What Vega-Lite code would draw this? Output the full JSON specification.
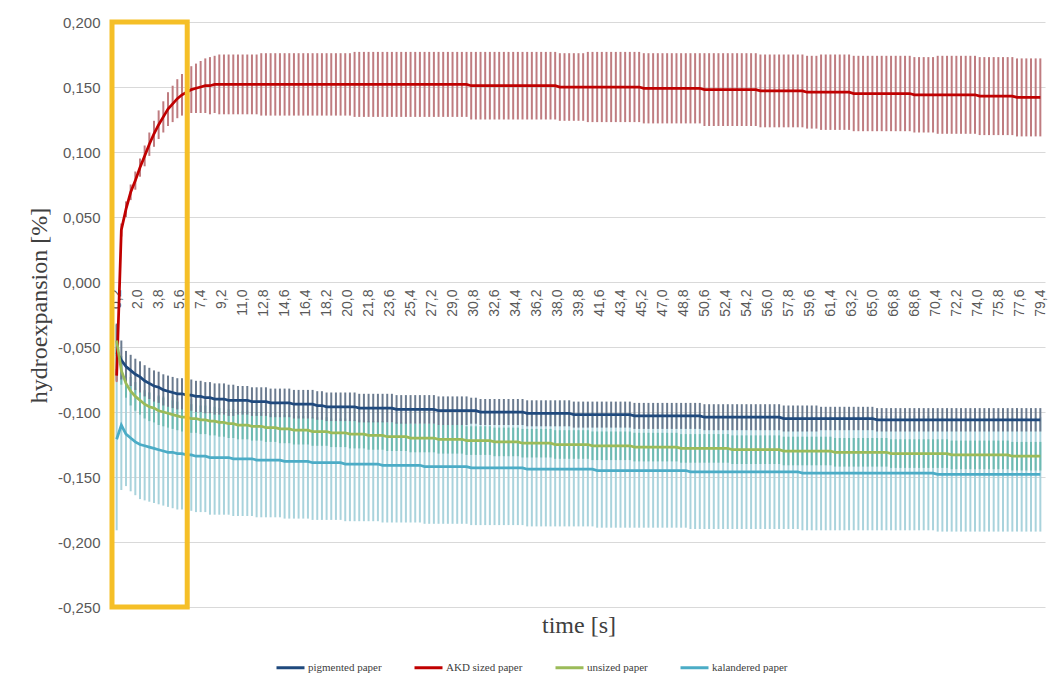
{
  "$schema": "https://vega.github.io/schema/vega-lite/v6.json",
  "width": 933,
  "height": 585,
  "autosize": {"type": "none"},
  "padding": {"left": 112, "top": 22, "right": 8, "bottom": 79},
  "background": "white",
  "config": {
    "locale": {"number": {"decimal": ",", "thousands": ".", "grouping": [3], "currency": ["", " €"], "minus": "-"}},
    "view": {"stroke": null},
    "axis": {"labelFont": "Liberation Sans", "labelColor": "#595959", "titleFont": "Liberation Serif", "titleColor": "#404040", "titleFontWeight": "normal", "gridColor": "#d9d9d9", "gridWidth": 1, "domain": false, "ticks": false},
    "legend": {"labelFont": "Liberation Serif", "labelFontSize": 11, "labelColor": "#404040", "symbolType": "stroke", "symbolStrokeWidth": 3, "symbolSize": 784, "labelOffset": 2, "columnPadding": 26}
  },
  "datasets": {
    "d": [
{"t":0.2,"a":-0.072,"ae":0.005,"p":-0.054,"pe":0.022,"u":-0.045,"ue":0.012,"k":-0.121,"ke":0.07},
{"t":0.6,"a":0.040,"ae":0.005,"p":-0.060,"pe":0.015,"u":-0.068,"ue":0.011,"k":-0.110,"ke":0.05},
{"t":1.0,"a":0.056,"ae":0.006,"p":-0.065,"pe":0.012,"u":-0.078,"ue":0.011,"k":-0.117,"ke":0.040},
{"t":1.4,"a":0.069,"ae":0.006,"p":-0.068,"pe":0.012,"u":-0.084,"ue":0.011,"k":-0.120,"ke":0.041},
{"t":1.8,"a":0.078,"ae":0.007,"p":-0.071,"pe":0.012,"u":-0.088,"ue":0.011,"k":-0.123,"ke":0.041},
{"t":2.2,"a":0.088,"ae":0.007,"p":-0.073,"pe":0.012,"u":-0.091,"ue":0.011,"k":-0.125,"ke":0.042},
{"t":2.6,"a":0.097,"ae":0.008,"p":-0.076,"pe":0.012,"u":-0.094,"ue":0.011,"k":-0.126,"ke":0.042},
{"t":3.0,"a":0.106,"ae":0.009,"p":-0.078,"pe":0.012,"u":-0.096,"ue":0.011,"k":-0.127,"ke":0.042},
{"t":3.4,"a":0.114,"ae":0.010,"p":-0.080,"pe":0.012,"u":-0.097,"ue":0.011,"k":-0.128,"ke":0.042},
{"t":3.8,"a":0.121,"ae":0.011,"p":-0.081,"pe":0.012,"u":-0.099,"ue":0.011,"k":-0.129,"ke":0.042},
{"t":4.2,"a":0.127,"ae":0.012,"p":-0.083,"pe":0.012,"u":-0.100,"ue":0.011,"k":-0.130,"ke":0.042},
{"t":4.6,"a":0.133,"ae":0.013,"p":-0.084,"pe":0.012,"u":-0.101,"ue":0.011,"k":-0.131,"ke":0.042},
{"t":5.0,"a":0.137,"ae":0.014,"p":-0.085,"pe":0.012,"u":-0.102,"ue":0.011,"k":-0.131,"ke":0.043},
{"t":5.4,"a":0.141,"ae":0.015,"p":-0.086,"pe":0.012,"u":-0.103,"ue":0.011,"k":-0.132,"ke":0.043},
{"t":5.8,"a":0.144,"ae":0.016,"p":-0.086,"pe":0.012,"u":-0.104,"ue":0.011,"k":-0.132,"ke":0.043},
{"t":6.2,"a":0.146,"ae":0.017,"p":-0.087,"pe":0.012,"u":-0.104,"ue":0.011,"k":-0.133,"ke":0.043},
{"t":6.6,"a":0.148,"ae":0.018,"p":-0.087,"pe":0.012,"u":-0.105,"ue":0.011,"k":-0.133,"ke":0.043},
{"t":7.0,"a":0.149,"ae":0.019,"p":-0.088,"pe":0.012,"u":-0.105,"ue":0.011,"k":-0.134,"ke":0.043},
{"t":7.4,"a":0.150,"ae":0.020,"p":-0.088,"pe":0.012,"u":-0.106,"ue":0.011,"k":-0.134,"ke":0.043},
{"t":7.8,"a":0.151,"ae":0.021,"p":-0.089,"pe":0.012,"u":-0.106,"ue":0.011,"k":-0.134,"ke":0.043},
{"t":8.2,"a":0.151,"ae":0.022,"p":-0.089,"pe":0.012,"u":-0.107,"ue":0.011,"k":-0.135,"ke":0.044},
{"t":8.6,"a":0.152,"ae":0.022,"p":-0.090,"pe":0.012,"u":-0.107,"ue":0.011,"k":-0.135,"ke":0.044},
{"t":9.0,"a":0.152,"ae":0.023,"p":-0.090,"pe":0.012,"u":-0.108,"ue":0.011,"k":-0.135,"ke":0.044},
{"t":9.4,"a":0.152,"ae":0.023,"p":-0.090,"pe":0.012,"u":-0.108,"ue":0.011,"k":-0.135,"ke":0.044},
{"t":9.8,"a":0.152,"ae":0.023,"p":-0.091,"pe":0.012,"u":-0.109,"ue":0.011,"k":-0.135,"ke":0.044},
{"t":10.2,"a":0.152,"ae":0.023,"p":-0.091,"pe":0.012,"u":-0.109,"ue":0.011,"k":-0.136,"ke":0.044},
{"t":10.6,"a":0.152,"ae":0.023,"p":-0.091,"pe":0.011,"u":-0.110,"ue":0.011,"k":-0.136,"ke":0.044},
{"t":11.0,"a":0.152,"ae":0.023,"p":-0.091,"pe":0.011,"u":-0.110,"ue":0.011,"k":-0.136,"ke":0.044},
{"t":11.4,"a":0.152,"ae":0.023,"p":-0.091,"pe":0.011,"u":-0.110,"ue":0.011,"k":-0.136,"ke":0.044},
{"t":11.8,"a":0.152,"ae":0.023,"p":-0.092,"pe":0.011,"u":-0.111,"ue":0.011,"k":-0.136,"ke":0.044},
{"t":12.2,"a":0.152,"ae":0.023,"p":-0.092,"pe":0.011,"u":-0.111,"ue":0.011,"k":-0.137,"ke":0.044},
{"t":12.6,"a":0.152,"ae":0.024,"p":-0.092,"pe":0.011,"u":-0.111,"ue":0.011,"k":-0.137,"ke":0.044},
{"t":13.0,"a":0.152,"ae":0.024,"p":-0.092,"pe":0.011,"u":-0.112,"ue":0.011,"k":-0.137,"ke":0.044},
{"t":13.4,"a":0.152,"ae":0.024,"p":-0.093,"pe":0.011,"u":-0.112,"ue":0.011,"k":-0.137,"ke":0.044},
{"t":13.8,"a":0.152,"ae":0.024,"p":-0.093,"pe":0.011,"u":-0.112,"ue":0.011,"k":-0.137,"ke":0.044},
{"t":14.2,"a":0.152,"ae":0.024,"p":-0.093,"pe":0.011,"u":-0.113,"ue":0.011,"k":-0.137,"ke":0.044},
{"t":14.6,"a":0.152,"ae":0.024,"p":-0.093,"pe":0.011,"u":-0.113,"ue":0.011,"k":-0.138,"ke":0.044},
{"t":15.0,"a":0.152,"ae":0.024,"p":-0.093,"pe":0.011,"u":-0.113,"ue":0.011,"k":-0.138,"ke":0.044},
{"t":15.4,"a":0.152,"ae":0.024,"p":-0.094,"pe":0.011,"u":-0.114,"ue":0.011,"k":-0.138,"ke":0.044},
{"t":15.8,"a":0.152,"ae":0.024,"p":-0.094,"pe":0.011,"u":-0.114,"ue":0.011,"k":-0.138,"ke":0.044},
{"t":16.2,"a":0.152,"ae":0.024,"p":-0.094,"pe":0.011,"u":-0.114,"ue":0.011,"k":-0.138,"ke":0.044},
{"t":16.6,"a":0.152,"ae":0.024,"p":-0.094,"pe":0.011,"u":-0.114,"ue":0.011,"k":-0.138,"ke":0.044},
{"t":17.0,"a":0.152,"ae":0.024,"p":-0.094,"pe":0.011,"u":-0.115,"ue":0.011,"k":-0.139,"ke":0.044},
{"t":17.4,"a":0.152,"ae":0.024,"p":-0.095,"pe":0.011,"u":-0.115,"ue":0.011,"k":-0.139,"ke":0.044},
{"t":17.8,"a":0.152,"ae":0.024,"p":-0.095,"pe":0.011,"u":-0.115,"ue":0.011,"k":-0.139,"ke":0.044},
{"t":18.2,"a":0.152,"ae":0.024,"p":-0.096,"pe":0.011,"u":-0.115,"ue":0.011,"k":-0.139,"ke":0.044},
{"t":18.6,"a":0.152,"ae":0.024,"p":-0.096,"pe":0.011,"u":-0.116,"ue":0.011,"k":-0.139,"ke":0.044},
{"t":19.0,"a":0.152,"ae":0.024,"p":-0.096,"pe":0.011,"u":-0.116,"ue":0.011,"k":-0.139,"ke":0.044},
{"t":19.4,"a":0.152,"ae":0.024,"p":-0.096,"pe":0.011,"u":-0.116,"ue":0.011,"k":-0.139,"ke":0.044},
{"t":19.8,"a":0.152,"ae":0.024,"p":-0.096,"pe":0.011,"u":-0.116,"ue":0.011,"k":-0.140,"ke":0.044},
{"t":20.2,"a":0.152,"ae":0.024,"p":-0.096,"pe":0.011,"u":-0.117,"ue":0.011,"k":-0.140,"ke":0.044},
{"t":20.6,"a":0.152,"ae":0.025,"p":-0.096,"pe":0.011,"u":-0.117,"ue":0.011,"k":-0.140,"ke":0.044},
{"t":21.0,"a":0.152,"ae":0.025,"p":-0.097,"pe":0.011,"u":-0.117,"ue":0.011,"k":-0.140,"ke":0.044},
{"t":21.4,"a":0.152,"ae":0.025,"p":-0.097,"pe":0.011,"u":-0.117,"ue":0.011,"k":-0.140,"ke":0.044},
{"t":21.8,"a":0.152,"ae":0.025,"p":-0.097,"pe":0.011,"u":-0.118,"ue":0.011,"k":-0.140,"ke":0.044},
{"t":22.2,"a":0.152,"ae":0.025,"p":-0.097,"pe":0.011,"u":-0.118,"ue":0.011,"k":-0.140,"ke":0.044},
{"t":22.6,"a":0.152,"ae":0.025,"p":-0.097,"pe":0.011,"u":-0.118,"ue":0.011,"k":-0.140,"ke":0.044},
{"t":23.0,"a":0.152,"ae":0.025,"p":-0.097,"pe":0.011,"u":-0.118,"ue":0.011,"k":-0.141,"ke":0.044},
{"t":23.4,"a":0.152,"ae":0.025,"p":-0.097,"pe":0.011,"u":-0.119,"ue":0.011,"k":-0.141,"ke":0.044},
{"t":23.8,"a":0.152,"ae":0.025,"p":-0.097,"pe":0.011,"u":-0.119,"ue":0.011,"k":-0.141,"ke":0.044},
{"t":24.2,"a":0.152,"ae":0.025,"p":-0.098,"pe":0.011,"u":-0.119,"ue":0.011,"k":-0.141,"ke":0.044},
{"t":24.6,"a":0.152,"ae":0.025,"p":-0.098,"pe":0.011,"u":-0.119,"ue":0.011,"k":-0.141,"ke":0.044},
{"t":25.0,"a":0.152,"ae":0.025,"p":-0.098,"pe":0.011,"u":-0.119,"ue":0.011,"k":-0.141,"ke":0.044},
{"t":25.4,"a":0.152,"ae":0.025,"p":-0.098,"pe":0.011,"u":-0.120,"ue":0.011,"k":-0.141,"ke":0.044},
{"t":25.8,"a":0.152,"ae":0.025,"p":-0.098,"pe":0.011,"u":-0.120,"ue":0.011,"k":-0.141,"ke":0.044},
{"t":26.2,"a":0.152,"ae":0.025,"p":-0.098,"pe":0.011,"u":-0.120,"ue":0.011,"k":-0.141,"ke":0.044},
{"t":26.6,"a":0.152,"ae":0.025,"p":-0.098,"pe":0.011,"u":-0.120,"ue":0.011,"k":-0.142,"ke":0.044},
{"t":27.0,"a":0.152,"ae":0.025,"p":-0.098,"pe":0.011,"u":-0.120,"ue":0.011,"k":-0.142,"ke":0.044},
{"t":27.4,"a":0.152,"ae":0.025,"p":-0.098,"pe":0.011,"u":-0.120,"ue":0.011,"k":-0.142,"ke":0.044},
{"t":27.8,"a":0.152,"ae":0.025,"p":-0.099,"pe":0.011,"u":-0.121,"ue":0.011,"k":-0.142,"ke":0.044},
{"t":28.2,"a":0.152,"ae":0.025,"p":-0.099,"pe":0.011,"u":-0.121,"ue":0.011,"k":-0.142,"ke":0.044},
{"t":28.6,"a":0.152,"ae":0.025,"p":-0.099,"pe":0.011,"u":-0.121,"ue":0.011,"k":-0.142,"ke":0.044},
{"t":29.0,"a":0.152,"ae":0.025,"p":-0.099,"pe":0.011,"u":-0.121,"ue":0.011,"k":-0.142,"ke":0.044},
{"t":29.4,"a":0.152,"ae":0.025,"p":-0.099,"pe":0.011,"u":-0.121,"ue":0.011,"k":-0.142,"ke":0.044},
{"t":29.8,"a":0.152,"ae":0.025,"p":-0.099,"pe":0.011,"u":-0.121,"ue":0.011,"k":-0.142,"ke":0.044},
{"t":30.2,"a":0.152,"ae":0.025,"p":-0.099,"pe":0.011,"u":-0.122,"ue":0.011,"k":-0.142,"ke":0.044},
{"t":30.6,"a":0.151,"ae":0.026,"p":-0.099,"pe":0.010,"u":-0.122,"ue":0.011,"k":-0.143,"ke":0.044},
{"t":31.0,"a":0.151,"ae":0.026,"p":-0.099,"pe":0.010,"u":-0.122,"ue":0.011,"k":-0.143,"ke":0.044},
{"t":31.4,"a":0.151,"ae":0.026,"p":-0.100,"pe":0.010,"u":-0.122,"ue":0.011,"k":-0.143,"ke":0.044},
{"t":31.8,"a":0.151,"ae":0.026,"p":-0.100,"pe":0.010,"u":-0.122,"ue":0.011,"k":-0.143,"ke":0.044},
{"t":32.2,"a":0.151,"ae":0.026,"p":-0.100,"pe":0.010,"u":-0.122,"ue":0.011,"k":-0.143,"ke":0.044},
{"t":32.6,"a":0.151,"ae":0.026,"p":-0.100,"pe":0.010,"u":-0.123,"ue":0.011,"k":-0.143,"ke":0.044},
{"t":33.0,"a":0.151,"ae":0.026,"p":-0.100,"pe":0.010,"u":-0.123,"ue":0.011,"k":-0.143,"ke":0.044},
{"t":33.4,"a":0.151,"ae":0.026,"p":-0.100,"pe":0.010,"u":-0.123,"ue":0.011,"k":-0.143,"ke":0.044},
{"t":33.8,"a":0.151,"ae":0.026,"p":-0.100,"pe":0.010,"u":-0.123,"ue":0.011,"k":-0.143,"ke":0.044},
{"t":34.2,"a":0.151,"ae":0.026,"p":-0.100,"pe":0.010,"u":-0.123,"ue":0.011,"k":-0.143,"ke":0.044},
{"t":34.6,"a":0.151,"ae":0.026,"p":-0.100,"pe":0.010,"u":-0.123,"ue":0.011,"k":-0.143,"ke":0.044},
{"t":35.0,"a":0.151,"ae":0.026,"p":-0.100,"pe":0.010,"u":-0.124,"ue":0.011,"k":-0.143,"ke":0.044},
{"t":35.4,"a":0.151,"ae":0.026,"p":-0.101,"pe":0.010,"u":-0.124,"ue":0.011,"k":-0.144,"ke":0.044},
{"t":35.8,"a":0.151,"ae":0.026,"p":-0.101,"pe":0.010,"u":-0.124,"ue":0.011,"k":-0.144,"ke":0.044},
{"t":36.2,"a":0.151,"ae":0.026,"p":-0.101,"pe":0.010,"u":-0.124,"ue":0.011,"k":-0.144,"ke":0.044},
{"t":36.6,"a":0.151,"ae":0.026,"p":-0.101,"pe":0.010,"u":-0.124,"ue":0.011,"k":-0.144,"ke":0.044},
{"t":37.0,"a":0.151,"ae":0.026,"p":-0.101,"pe":0.010,"u":-0.124,"ue":0.011,"k":-0.144,"ke":0.044},
{"t":37.4,"a":0.151,"ae":0.026,"p":-0.101,"pe":0.010,"u":-0.124,"ue":0.011,"k":-0.144,"ke":0.044},
{"t":37.8,"a":0.151,"ae":0.026,"p":-0.101,"pe":0.010,"u":-0.125,"ue":0.011,"k":-0.144,"ke":0.044},
{"t":38.2,"a":0.150,"ae":0.026,"p":-0.101,"pe":0.010,"u":-0.125,"ue":0.011,"k":-0.144,"ke":0.044},
{"t":38.6,"a":0.150,"ae":0.026,"p":-0.101,"pe":0.010,"u":-0.125,"ue":0.011,"k":-0.144,"ke":0.044},
{"t":39.0,"a":0.150,"ae":0.026,"p":-0.101,"pe":0.010,"u":-0.125,"ue":0.011,"k":-0.144,"ke":0.044},
{"t":39.4,"a":0.150,"ae":0.026,"p":-0.102,"pe":0.010,"u":-0.125,"ue":0.011,"k":-0.144,"ke":0.044},
{"t":39.8,"a":0.150,"ae":0.026,"p":-0.102,"pe":0.010,"u":-0.125,"ue":0.011,"k":-0.144,"ke":0.044},
{"t":40.2,"a":0.150,"ae":0.026,"p":-0.102,"pe":0.010,"u":-0.125,"ue":0.011,"k":-0.144,"ke":0.044},
{"t":40.6,"a":0.150,"ae":0.027,"p":-0.102,"pe":0.010,"u":-0.125,"ue":0.011,"k":-0.144,"ke":0.044},
{"t":41.0,"a":0.150,"ae":0.027,"p":-0.102,"pe":0.010,"u":-0.126,"ue":0.011,"k":-0.144,"ke":0.044},
{"t":41.4,"a":0.150,"ae":0.027,"p":-0.102,"pe":0.010,"u":-0.126,"ue":0.011,"k":-0.145,"ke":0.044},
{"t":41.8,"a":0.150,"ae":0.027,"p":-0.102,"pe":0.010,"u":-0.126,"ue":0.011,"k":-0.145,"ke":0.044},
{"t":42.2,"a":0.150,"ae":0.027,"p":-0.102,"pe":0.010,"u":-0.126,"ue":0.011,"k":-0.145,"ke":0.044},
{"t":42.6,"a":0.150,"ae":0.027,"p":-0.102,"pe":0.010,"u":-0.126,"ue":0.011,"k":-0.145,"ke":0.044},
{"t":43.0,"a":0.150,"ae":0.027,"p":-0.102,"pe":0.010,"u":-0.126,"ue":0.011,"k":-0.145,"ke":0.044},
{"t":43.4,"a":0.150,"ae":0.027,"p":-0.102,"pe":0.010,"u":-0.126,"ue":0.011,"k":-0.145,"ke":0.044},
{"t":43.8,"a":0.150,"ae":0.027,"p":-0.102,"pe":0.010,"u":-0.126,"ue":0.011,"k":-0.145,"ke":0.044},
{"t":44.2,"a":0.150,"ae":0.027,"p":-0.102,"pe":0.010,"u":-0.126,"ue":0.011,"k":-0.145,"ke":0.044},
{"t":44.6,"a":0.150,"ae":0.027,"p":-0.103,"pe":0.010,"u":-0.127,"ue":0.011,"k":-0.145,"ke":0.044},
{"t":45.0,"a":0.150,"ae":0.027,"p":-0.103,"pe":0.010,"u":-0.127,"ue":0.011,"k":-0.145,"ke":0.044},
{"t":45.4,"a":0.149,"ae":0.027,"p":-0.103,"pe":0.010,"u":-0.127,"ue":0.011,"k":-0.145,"ke":0.044},
{"t":45.8,"a":0.149,"ae":0.027,"p":-0.103,"pe":0.010,"u":-0.127,"ue":0.011,"k":-0.145,"ke":0.044},
{"t":46.2,"a":0.149,"ae":0.027,"p":-0.103,"pe":0.010,"u":-0.127,"ue":0.011,"k":-0.145,"ke":0.044},
{"t":46.6,"a":0.149,"ae":0.027,"p":-0.103,"pe":0.010,"u":-0.127,"ue":0.011,"k":-0.145,"ke":0.044},
{"t":47.0,"a":0.149,"ae":0.027,"p":-0.103,"pe":0.010,"u":-0.127,"ue":0.011,"k":-0.145,"ke":0.044},
{"t":47.4,"a":0.149,"ae":0.027,"p":-0.103,"pe":0.010,"u":-0.127,"ue":0.011,"k":-0.145,"ke":0.044},
{"t":47.8,"a":0.149,"ae":0.027,"p":-0.103,"pe":0.010,"u":-0.127,"ue":0.011,"k":-0.145,"ke":0.044},
{"t":48.2,"a":0.149,"ae":0.027,"p":-0.103,"pe":0.010,"u":-0.127,"ue":0.011,"k":-0.145,"ke":0.044},
{"t":48.6,"a":0.149,"ae":0.027,"p":-0.103,"pe":0.010,"u":-0.128,"ue":0.011,"k":-0.145,"ke":0.044},
{"t":49.0,"a":0.149,"ae":0.027,"p":-0.103,"pe":0.010,"u":-0.128,"ue":0.011,"k":-0.145,"ke":0.044},
{"t":49.4,"a":0.149,"ae":0.027,"p":-0.103,"pe":0.010,"u":-0.128,"ue":0.011,"k":-0.146,"ke":0.044},
{"t":49.8,"a":0.149,"ae":0.027,"p":-0.103,"pe":0.010,"u":-0.128,"ue":0.011,"k":-0.146,"ke":0.044},
{"t":50.2,"a":0.149,"ae":0.027,"p":-0.103,"pe":0.010,"u":-0.128,"ue":0.011,"k":-0.146,"ke":0.044},
{"t":50.6,"a":0.148,"ae":0.028,"p":-0.104,"pe":0.010,"u":-0.128,"ue":0.011,"k":-0.146,"ke":0.044},
{"t":51.0,"a":0.148,"ae":0.028,"p":-0.104,"pe":0.010,"u":-0.128,"ue":0.011,"k":-0.146,"ke":0.044},
{"t":51.4,"a":0.148,"ae":0.028,"p":-0.104,"pe":0.010,"u":-0.128,"ue":0.011,"k":-0.146,"ke":0.044},
{"t":51.8,"a":0.148,"ae":0.028,"p":-0.104,"pe":0.010,"u":-0.128,"ue":0.011,"k":-0.146,"ke":0.044},
{"t":52.2,"a":0.148,"ae":0.028,"p":-0.104,"pe":0.010,"u":-0.128,"ue":0.011,"k":-0.146,"ke":0.044},
{"t":52.6,"a":0.148,"ae":0.028,"p":-0.104,"pe":0.010,"u":-0.128,"ue":0.011,"k":-0.146,"ke":0.044},
{"t":53.0,"a":0.148,"ae":0.028,"p":-0.104,"pe":0.010,"u":-0.129,"ue":0.011,"k":-0.146,"ke":0.044},
{"t":53.4,"a":0.148,"ae":0.028,"p":-0.104,"pe":0.010,"u":-0.129,"ue":0.011,"k":-0.146,"ke":0.044},
{"t":53.8,"a":0.148,"ae":0.028,"p":-0.104,"pe":0.010,"u":-0.129,"ue":0.011,"k":-0.146,"ke":0.044},
{"t":54.2,"a":0.148,"ae":0.028,"p":-0.104,"pe":0.010,"u":-0.129,"ue":0.011,"k":-0.146,"ke":0.044},
{"t":54.6,"a":0.148,"ae":0.028,"p":-0.104,"pe":0.010,"u":-0.129,"ue":0.011,"k":-0.146,"ke":0.044},
{"t":55.0,"a":0.148,"ae":0.028,"p":-0.104,"pe":0.010,"u":-0.129,"ue":0.011,"k":-0.146,"ke":0.044},
{"t":55.4,"a":0.147,"ae":0.028,"p":-0.104,"pe":0.010,"u":-0.129,"ue":0.011,"k":-0.146,"ke":0.044},
{"t":55.8,"a":0.147,"ae":0.028,"p":-0.104,"pe":0.010,"u":-0.129,"ue":0.011,"k":-0.146,"ke":0.044},
{"t":56.2,"a":0.147,"ae":0.028,"p":-0.104,"pe":0.010,"u":-0.129,"ue":0.011,"k":-0.146,"ke":0.044},
{"t":56.6,"a":0.147,"ae":0.028,"p":-0.104,"pe":0.010,"u":-0.129,"ue":0.011,"k":-0.146,"ke":0.044},
{"t":57.0,"a":0.147,"ae":0.028,"p":-0.104,"pe":0.010,"u":-0.129,"ue":0.011,"k":-0.146,"ke":0.044},
{"t":57.4,"a":0.147,"ae":0.028,"p":-0.105,"pe":0.010,"u":-0.130,"ue":0.011,"k":-0.146,"ke":0.044},
{"t":57.8,"a":0.147,"ae":0.028,"p":-0.105,"pe":0.010,"u":-0.130,"ue":0.011,"k":-0.146,"ke":0.044},
{"t":58.2,"a":0.147,"ae":0.028,"p":-0.105,"pe":0.010,"u":-0.130,"ue":0.011,"k":-0.146,"ke":0.044},
{"t":58.6,"a":0.147,"ae":0.028,"p":-0.105,"pe":0.010,"u":-0.130,"ue":0.011,"k":-0.146,"ke":0.044},
{"t":59.0,"a":0.147,"ae":0.028,"p":-0.105,"pe":0.010,"u":-0.130,"ue":0.011,"k":-0.147,"ke":0.044},
{"t":59.4,"a":0.146,"ae":0.028,"p":-0.105,"pe":0.010,"u":-0.130,"ue":0.011,"k":-0.147,"ke":0.044},
{"t":59.8,"a":0.146,"ae":0.028,"p":-0.105,"pe":0.010,"u":-0.130,"ue":0.011,"k":-0.147,"ke":0.044},
{"t":60.2,"a":0.146,"ae":0.028,"p":-0.105,"pe":0.010,"u":-0.130,"ue":0.011,"k":-0.147,"ke":0.044},
{"t":60.6,"a":0.146,"ae":0.029,"p":-0.105,"pe":0.009,"u":-0.130,"ue":0.011,"k":-0.147,"ke":0.044},
{"t":61.0,"a":0.146,"ae":0.029,"p":-0.105,"pe":0.009,"u":-0.130,"ue":0.011,"k":-0.147,"ke":0.044},
{"t":61.4,"a":0.146,"ae":0.029,"p":-0.105,"pe":0.009,"u":-0.130,"ue":0.011,"k":-0.147,"ke":0.044},
{"t":61.8,"a":0.146,"ae":0.029,"p":-0.105,"pe":0.009,"u":-0.131,"ue":0.011,"k":-0.147,"ke":0.044},
{"t":62.2,"a":0.146,"ae":0.029,"p":-0.105,"pe":0.009,"u":-0.131,"ue":0.011,"k":-0.147,"ke":0.044},
{"t":62.6,"a":0.146,"ae":0.029,"p":-0.105,"pe":0.009,"u":-0.131,"ue":0.011,"k":-0.147,"ke":0.044},
{"t":63.0,"a":0.146,"ae":0.029,"p":-0.105,"pe":0.009,"u":-0.131,"ue":0.011,"k":-0.147,"ke":0.044},
{"t":63.4,"a":0.145,"ae":0.029,"p":-0.105,"pe":0.009,"u":-0.131,"ue":0.011,"k":-0.147,"ke":0.044},
{"t":63.8,"a":0.145,"ae":0.029,"p":-0.105,"pe":0.009,"u":-0.131,"ue":0.011,"k":-0.147,"ke":0.044},
{"t":64.2,"a":0.145,"ae":0.029,"p":-0.105,"pe":0.009,"u":-0.131,"ue":0.011,"k":-0.147,"ke":0.044},
{"t":64.6,"a":0.145,"ae":0.029,"p":-0.105,"pe":0.009,"u":-0.131,"ue":0.011,"k":-0.147,"ke":0.044},
{"t":65.0,"a":0.145,"ae":0.029,"p":-0.105,"pe":0.009,"u":-0.131,"ue":0.011,"k":-0.147,"ke":0.044},
{"t":65.4,"a":0.145,"ae":0.029,"p":-0.106,"pe":0.009,"u":-0.131,"ue":0.011,"k":-0.147,"ke":0.044},
{"t":65.8,"a":0.145,"ae":0.029,"p":-0.106,"pe":0.009,"u":-0.131,"ue":0.011,"k":-0.147,"ke":0.044},
{"t":66.2,"a":0.145,"ae":0.029,"p":-0.106,"pe":0.009,"u":-0.131,"ue":0.011,"k":-0.147,"ke":0.044},
{"t":66.6,"a":0.145,"ae":0.029,"p":-0.106,"pe":0.009,"u":-0.132,"ue":0.011,"k":-0.147,"ke":0.044},
{"t":67.0,"a":0.145,"ae":0.029,"p":-0.106,"pe":0.009,"u":-0.132,"ue":0.011,"k":-0.147,"ke":0.044},
{"t":67.4,"a":0.145,"ae":0.029,"p":-0.106,"pe":0.009,"u":-0.132,"ue":0.011,"k":-0.147,"ke":0.044},
{"t":67.8,"a":0.145,"ae":0.029,"p":-0.106,"pe":0.009,"u":-0.132,"ue":0.011,"k":-0.147,"ke":0.044},
{"t":68.2,"a":0.145,"ae":0.029,"p":-0.106,"pe":0.009,"u":-0.132,"ue":0.011,"k":-0.147,"ke":0.044},
{"t":68.6,"a":0.144,"ae":0.029,"p":-0.106,"pe":0.009,"u":-0.132,"ue":0.011,"k":-0.147,"ke":0.044},
{"t":69.0,"a":0.144,"ae":0.029,"p":-0.106,"pe":0.009,"u":-0.132,"ue":0.011,"k":-0.147,"ke":0.044},
{"t":69.4,"a":0.144,"ae":0.029,"p":-0.106,"pe":0.009,"u":-0.132,"ue":0.011,"k":-0.147,"ke":0.044},
{"t":69.8,"a":0.144,"ae":0.029,"p":-0.106,"pe":0.009,"u":-0.132,"ue":0.011,"k":-0.147,"ke":0.044},
{"t":70.2,"a":0.144,"ae":0.029,"p":-0.106,"pe":0.009,"u":-0.132,"ue":0.011,"k":-0.147,"ke":0.044},
{"t":70.6,"a":0.144,"ae":0.030,"p":-0.106,"pe":0.009,"u":-0.132,"ue":0.011,"k":-0.148,"ke":0.044},
{"t":71.0,"a":0.144,"ae":0.030,"p":-0.106,"pe":0.009,"u":-0.132,"ue":0.011,"k":-0.148,"ke":0.044},
{"t":71.4,"a":0.144,"ae":0.030,"p":-0.106,"pe":0.009,"u":-0.132,"ue":0.011,"k":-0.148,"ke":0.044},
{"t":71.8,"a":0.144,"ae":0.030,"p":-0.106,"pe":0.009,"u":-0.133,"ue":0.011,"k":-0.148,"ke":0.044},
{"t":72.2,"a":0.144,"ae":0.030,"p":-0.106,"pe":0.009,"u":-0.133,"ue":0.011,"k":-0.148,"ke":0.044},
{"t":72.6,"a":0.144,"ae":0.030,"p":-0.106,"pe":0.009,"u":-0.133,"ue":0.011,"k":-0.148,"ke":0.044},
{"t":73.0,"a":0.144,"ae":0.030,"p":-0.106,"pe":0.009,"u":-0.133,"ue":0.011,"k":-0.148,"ke":0.044},
{"t":73.4,"a":0.144,"ae":0.030,"p":-0.106,"pe":0.009,"u":-0.133,"ue":0.011,"k":-0.148,"ke":0.044},
{"t":73.8,"a":0.144,"ae":0.030,"p":-0.106,"pe":0.009,"u":-0.133,"ue":0.011,"k":-0.148,"ke":0.044},
{"t":74.2,"a":0.143,"ae":0.030,"p":-0.106,"pe":0.009,"u":-0.133,"ue":0.011,"k":-0.148,"ke":0.044},
{"t":74.6,"a":0.143,"ae":0.030,"p":-0.106,"pe":0.009,"u":-0.133,"ue":0.011,"k":-0.148,"ke":0.044},
{"t":75.0,"a":0.143,"ae":0.030,"p":-0.106,"pe":0.009,"u":-0.133,"ue":0.011,"k":-0.148,"ke":0.044},
{"t":75.4,"a":0.143,"ae":0.030,"p":-0.106,"pe":0.009,"u":-0.133,"ue":0.011,"k":-0.148,"ke":0.044},
{"t":75.8,"a":0.143,"ae":0.030,"p":-0.106,"pe":0.009,"u":-0.133,"ue":0.011,"k":-0.148,"ke":0.044},
{"t":76.2,"a":0.143,"ae":0.030,"p":-0.106,"pe":0.009,"u":-0.133,"ue":0.011,"k":-0.148,"ke":0.044},
{"t":76.6,"a":0.143,"ae":0.030,"p":-0.106,"pe":0.009,"u":-0.133,"ue":0.011,"k":-0.148,"ke":0.044},
{"t":77.0,"a":0.143,"ae":0.030,"p":-0.106,"pe":0.009,"u":-0.134,"ue":0.011,"k":-0.148,"ke":0.044},
{"t":77.4,"a":0.142,"ae":0.030,"p":-0.106,"pe":0.009,"u":-0.134,"ue":0.011,"k":-0.148,"ke":0.044},
{"t":77.8,"a":0.142,"ae":0.030,"p":-0.106,"pe":0.009,"u":-0.134,"ue":0.011,"k":-0.148,"ke":0.044},
{"t":78.2,"a":0.142,"ae":0.030,"p":-0.106,"pe":0.009,"u":-0.134,"ue":0.011,"k":-0.148,"ke":0.044},
{"t":78.6,"a":0.142,"ae":0.030,"p":-0.106,"pe":0.009,"u":-0.134,"ue":0.011,"k":-0.148,"ke":0.044},
{"t":79.0,"a":0.142,"ae":0.030,"p":-0.106,"pe":0.009,"u":-0.134,"ue":0.011,"k":-0.148,"ke":0.044},
{"t":79.4,"a":0.142,"ae":0.030,"p":-0.106,"pe":0.009,"u":-0.134,"ue":0.011,"k":-0.148,"ke":0.044}
    ],
    "box": [{"t": -0.2, "t2": 6.25, "lo": -0.25, "hi": 0.2}]
  },
  "data": {"name": "d"},
  "encoding": {
    "x": {
      "field": "t", "type": "quantitative",
      "scale": {"domain": [-0.2, 79.8], "nice": false, "zero": false},
      "axis": {
        "title": "time [s]",
        "values": [0.2,2,3.8,5.6,7.4,9.2,11,12.8,14.6,16.4,18.2,20,21.8,23.6,25.4,27.2,29,30.8,32.6,34.4,36.2,38,39.8,41.6,43.4,45.2,47,48.8,50.6,52.4,54.2,56,57.8,59.6,61.4,63.2,65,66.8,68.6,70.4,72.2,74,75.8,77.6,79.4],
        "format": ".1f",
        "labelAngle": 270,
        "labelFontSize": 14,
        "labelPadding": 7,
        "labelOverlap": false,
        "labelFlush": false,
        "grid": false,
        "offset": -325,
        "titleFontSize": 24,
        "titleY": 350,
        "titleBaseline": "alphabetic"
      }
    }
  },
  "layer": [
    {
      "mark": {"type": "errorbar", "color": "#a9d3dc", "thickness": 2},
      "encoding": {
        "y": {"field": "k", "type": "quantitative", "scale": {"domain": [-0.25, 0.2], "nice": false, "zero": false},
          "axis": {"title": "hydroexpansion [%]", "values": [-0.25, -0.2, -0.15, -0.1, -0.05, 0, 0.05, 0.1, 0.15, 0.2], "format": ".3f", "labelFontSize": 15, "labelPadding": 12, "grid": true, "titleFontSize": 24, "titlePadding": 6, "titleY": 283}},
        "yError": {"field": "ke"}
      }
    },
    {
      "mark": {"type": "errorbar", "color": "#6dbab2", "thickness": 2},
      "encoding": {
        "y": {"field": "u", "type": "quantitative", "scale": {"domain": [-0.25, 0.2], "nice": false, "zero": false},
          "axis": {"title": "hydroexpansion [%]", "values": [-0.25, -0.2, -0.15, -0.1, -0.05, 0, 0.05, 0.1, 0.15, 0.2], "format": ".3f", "labelFontSize": 15, "labelPadding": 12, "grid": true, "titleFontSize": 24, "titlePadding": 6, "titleY": 283}},
        "yError": {"field": "ue"}
      }
    },
    {
      "mark": {"type": "errorbar", "color": "#6b7b8f", "thickness": 2},
      "encoding": {
        "y": {"field": "p", "type": "quantitative", "scale": {"domain": [-0.25, 0.2], "nice": false, "zero": false},
          "axis": {"title": "hydroexpansion [%]", "values": [-0.25, -0.2, -0.15, -0.1, -0.05, 0, 0.05, 0.1, 0.15, 0.2], "format": ".3f", "labelFontSize": 15, "labelPadding": 12, "grid": true, "titleFontSize": 24, "titlePadding": 6, "titleY": 283}},
        "yError": {"field": "pe"}
      }
    },
    {
      "mark": {"type": "errorbar", "color": "#bf7c80", "thickness": 2},
      "encoding": {
        "y": {"field": "a", "type": "quantitative", "scale": {"domain": [-0.25, 0.2], "nice": false, "zero": false},
          "axis": {"title": "hydroexpansion [%]", "values": [-0.25, -0.2, -0.15, -0.1, -0.05, 0, 0.05, 0.1, 0.15, 0.2], "format": ".3f", "labelFontSize": 15, "labelPadding": 12, "grid": true, "titleFontSize": 24, "titlePadding": 6, "titleY": 283}},
        "yError": {"field": "ae"}
      }
    },
    {
      "mark": {"type": "line", "strokeWidth": 2.75},
      "encoding": {
        "y": {"field": "p", "type": "quantitative", "scale": {"domain": [-0.25, 0.2], "nice": false, "zero": false},
          "axis": {"title": "hydroexpansion [%]", "values": [-0.25, -0.2, -0.15, -0.1, -0.05, 0, 0.05, 0.1, 0.15, 0.2], "format": ".3f", "labelFontSize": 15, "labelPadding": 12, "grid": true, "titleFontSize": 24, "titlePadding": 6, "titleY": 283}},
        "color": {
          "datum": "pigmented paper", "type": "nominal",
          "scale": {"domain": ["pigmented paper", "AKD sized paper", "unsized paper", "kalandered paper"], "range": ["#1F497D", "#C00000", "#9BBB59", "#4BACC6"]},
          "legend": {"title": null, "orient": "none", "legendX": 163, "legendY": 630, "direction": "horizontal", "symbolType": "stroke", "symbolStrokeWidth": 3, "symbolSize": 784, "labelFont": "Liberation Serif", "labelFontSize": 11, "labelColor": "#404040", "labelOffset": 2, "columnPadding": 26}
        }
      }
    },
    {
      "mark": {"type": "line", "strokeWidth": 2.75},
      "encoding": {
        "y": {"field": "a", "type": "quantitative", "scale": {"domain": [-0.25, 0.2], "nice": false, "zero": false},
          "axis": {"title": "hydroexpansion [%]", "values": [-0.25, -0.2, -0.15, -0.1, -0.05, 0, 0.05, 0.1, 0.15, 0.2], "format": ".3f", "labelFontSize": 15, "labelPadding": 12, "grid": true, "titleFontSize": 24, "titlePadding": 6, "titleY": 283}},
        "color": {"datum": "AKD sized paper", "type": "nominal"}
      }
    },
    {
      "mark": {"type": "line", "strokeWidth": 2.75},
      "encoding": {
        "y": {"field": "u", "type": "quantitative", "scale": {"domain": [-0.25, 0.2], "nice": false, "zero": false},
          "axis": {"title": "hydroexpansion [%]", "values": [-0.25, -0.2, -0.15, -0.1, -0.05, 0, 0.05, 0.1, 0.15, 0.2], "format": ".3f", "labelFontSize": 15, "labelPadding": 12, "grid": true, "titleFontSize": 24, "titlePadding": 6, "titleY": 283}},
        "color": {"datum": "unsized paper", "type": "nominal"}
      }
    },
    {
      "mark": {"type": "line", "strokeWidth": 2.75},
      "encoding": {
        "y": {"field": "k", "type": "quantitative", "scale": {"domain": [-0.25, 0.2], "nice": false, "zero": false},
          "axis": {"title": "hydroexpansion [%]", "values": [-0.25, -0.2, -0.15, -0.1, -0.05, 0, 0.05, 0.1, 0.15, 0.2], "format": ".3f", "labelFontSize": 15, "labelPadding": 12, "grid": true, "titleFontSize": 24, "titlePadding": 6, "titleY": 283}},
        "color": {"datum": "kalandered paper", "type": "nominal"}
      }
    },
    {
      "data": {"name": "box"},
      "mark": {"type": "rect", "filled": false, "stroke": "#F5BF27", "strokeWidth": 5},
      "encoding": {
        "x2": {"field": "t2"},
        "y": {"field": "lo", "type": "quantitative", "scale": {"domain": [-0.25, 0.2], "nice": false, "zero": false},
          "axis": {"title": "hydroexpansion [%]", "values": [-0.25, -0.2, -0.15, -0.1, -0.05, 0, 0.05, 0.1, 0.15, 0.2], "format": ".3f", "labelFontSize": 15, "labelPadding": 12, "grid": true, "titleFontSize": 24, "titlePadding": 6, "titleY": 283}},
        "y2": {"field": "hi"}
      }
    }
  ]
}
